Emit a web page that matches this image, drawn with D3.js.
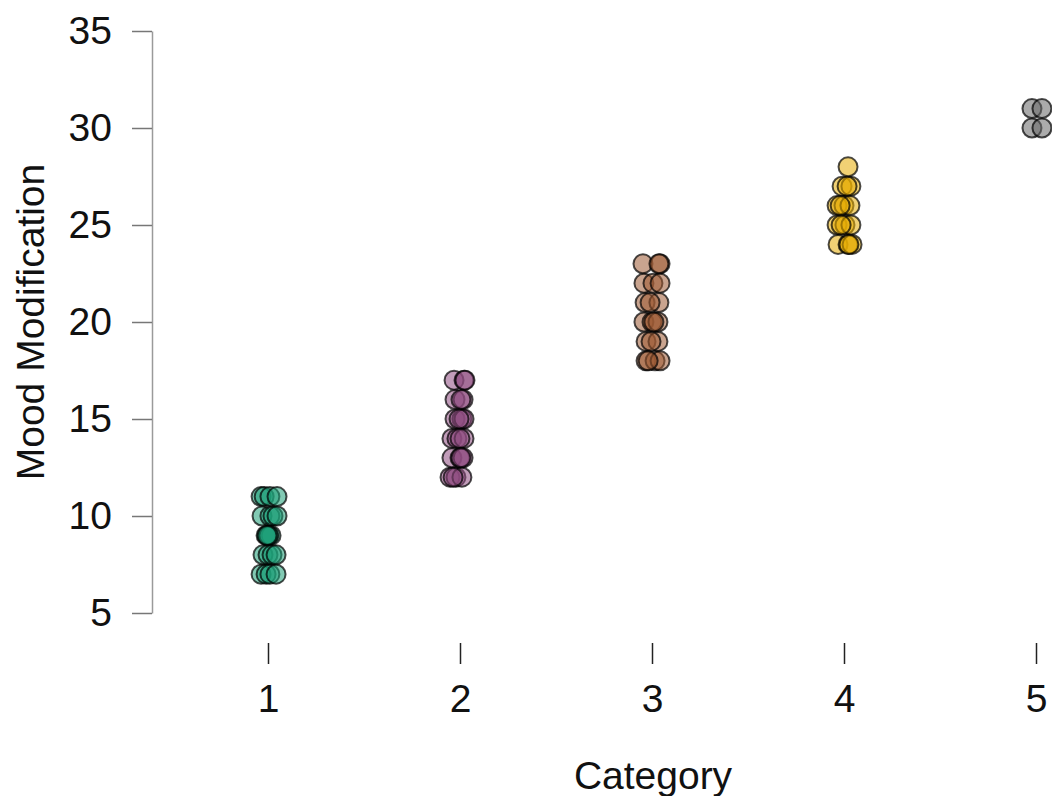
<!DOCTYPE html>
<html>
<head>
<meta charset="utf-8">
<script src="https://cdn.jsdelivr.net/npm/d3@7"></script>
<style>
  html, body { margin: 0; padding: 0; background: #fff; }
  svg { display: block; font-family: "Liberation Sans", Arial, sans-serif; }
</style>
</head>
<body>
<svg id="chart" width="1052" height="796"></svg>
<script>
// ---- data ----
const categories = [1, 2, 3, 4, 5];
const colors = ["#1b9e77", "#8e4a80", "#9c5a33", "#e6ab02", "#666666"];
// y values and horizontal jitter (in category units) per category
const cat1Y = [11, 11, 11, 11, 10, 10, 10, 10, 9, 9, 9, 9, 9, 8, 8, 8, 8, 7, 7, 7, 7];
const cat1J = [-0.036, -0.02, 0.01, 0.047, -0.031, 0.01, 0.026, 0.047, -0.01, 0.016, 0.0, 0.005, -0.005, -0.026, 0.0, 0.021, 0.042, -0.036, -0.01, 0.01, 0.042];
const cat2Y = [17, 17, 17, 16, 16, 16, 15, 15, 15, 15, 14, 14, 14, 14, 13, 13, 13, 13, 12, 12, 12, 12];
const cat2J = [-0.031, 0.021, 0.026, -0.026, 0.016, 0.005, -0.026, 0.01, 0.021, -0.005, -0.042, -0.016, 0.021, 0.0, -0.042, 0.0, 0.016, 0.005, -0.052, -0.021, 0.01, -0.036];
const cat3Y = [23, 23, 23, 22, 22, 22, 21, 21, 21, 20, 20, 20, 20, 19, 19, 19, 18, 18, 18, 18];
const cat3J = [-0.047, 0.042, 0.036, -0.042, 0.005, 0.042, -0.036, 0.036, -0.01, -0.042, 0.0, 0.031, 0.01, -0.031, 0.031, -0.005, -0.031, 0.016, 0.042, -0.02];
const cat4Y = [28, 27, 27, 27, 26, 26, 26, 26, 25, 25, 25, 25, 24, 24, 24, 24];
const cat4J = [0.021, -0.01, 0.036, 0.016, -0.036, 0.0, 0.031, -0.02, -0.036, 0.005, 0.036, -0.015, -0.031, 0.021, 0.042, 0.026];
const cat5Y = [31, 31, 30, 30];
const cat5J = [-0.021, 0.031, -0.021, 0.031];
const yTicks = [5, 10, 15, 20, 25, 30, 35];
const xLabel = "Category";
const yLabel = "Mood Modification";

const groups = [
  [cat1Y, cat1J], [cat2Y, cat2J], [cat3Y, cat3J], [cat4Y, cat4J], [cat5Y, cat5J]
];
const points = [];
groups.forEach(([ys, js], gi) => {
  ys.forEach((v, i) => points.push({ cat: categories[gi], jit: js[i], y: v, color: colors[gi] }));
});

// ---- layout ----
const svg = d3.select("#chart");
const x = d3.scaleLinear().domain([1, 5]).range([268, 1036]);
const y = d3.scaleLinear().domain([5, 35]).range([613, 31]);
const fontSize = 39;
const axisColor = "#9a9a9a";

// y axis
const yAxis = svg.append("g").attr("transform", "translate(152,0)")
  .call(d3.axisLeft(y).tickValues(yTicks).tickSize(20).tickPadding(20).tickSizeOuter(0));
yAxis.select(".domain").attr("stroke", axisColor).attr("stroke-width", 1.5);
yAxis.selectAll(".tick line").attr("stroke", "#777").attr("stroke-width", 1.5);
yAxis.selectAll(".tick text").attr("font-size", fontSize).attr("fill", "#111")
  .attr("font-family", "Liberation Sans, Arial, sans-serif");

// x axis (ticks only)
const xAxis = svg.append("g").attr("transform", "translate(0,643)")
  .call(d3.axisBottom(x).tickValues(categories).tickFormat(d3.format("d")).tickSize(21).tickPadding(20).tickSizeOuter(0));
xAxis.select(".domain").remove();
xAxis.selectAll(".tick line").attr("stroke", "#222").attr("stroke-width", 1.5);
xAxis.selectAll(".tick text").attr("font-size", fontSize).attr("fill", "#111")
  .attr("font-family", "Liberation Sans, Arial, sans-serif");

// axis titles
svg.append("text").attr("x", 653).attr("y", 789).attr("text-anchor", "middle")
  .attr("font-size", fontSize).attr("fill", "#111").text(xLabel);
svg.append("text").attr("transform", "translate(44,322) rotate(-90)").attr("text-anchor", "middle")
  .attr("font-size", fontSize).attr("fill", "#111").text(yLabel);

// points
svg.append("g").selectAll("circle").data(points).join("circle")
  .attr("cx", d => x(d.cat + d.jit))
  .attr("cy", d => y(d.y))
  .attr("r", 9.5)
  .attr("fill", d => d.color)
  .attr("fill-opacity", 0.55)
  .attr("stroke", "#000")
  .attr("stroke-opacity", 0.7)
  .attr("stroke-width", 2);
</script>
</body>
</html>
